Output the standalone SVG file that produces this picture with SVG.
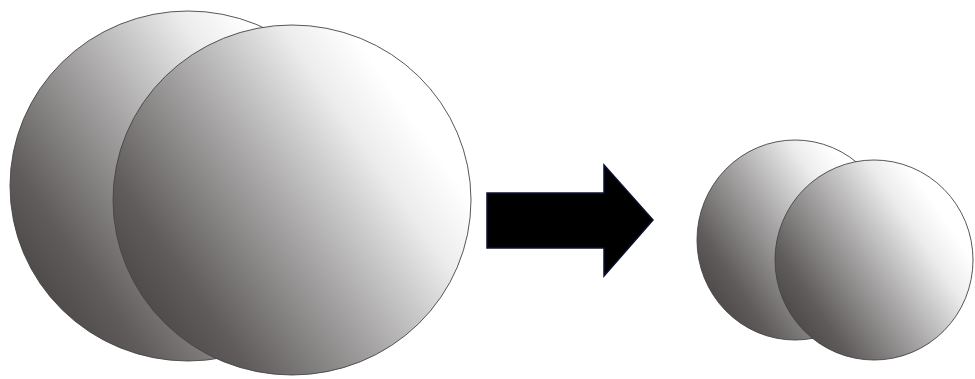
<svg xmlns="http://www.w3.org/2000/svg" width="975" height="379" viewBox="0 0 975 379">
<defs>
<linearGradient id="g" x1="-0.02" y1="0.86" x2="0.84" y2="0.27">
<stop offset="0" stop-color="#3e3a3a"/>
<stop offset="0.25" stop-color="#605c5c"/>
<stop offset="0.55" stop-color="#a4a2a2"/>
<stop offset="0.85" stop-color="#ececec"/>
<stop offset="1" stop-color="#ffffff"/>
</linearGradient>
<style>
.s{fill:url(#g);stroke:#444;stroke-width:0.9}
.a{fill:#000;stroke:#0b1030;stroke-width:1.5}
</style>
</defs>
<rect width="975" height="379" fill="#fff"/>
<g id="big-back"><ellipse class="s" cx="188" cy="186" rx="178" ry="175"/></g>
<g id="big-front"><ellipse class="s" cx="292" cy="200" rx="179" ry="175"/></g>
<g id="connectors">
<polygon class="a" points="487,193 604,193 604,165 653,220 604,276 604,248 487,248"/>
</g>
<g id="small-back"><ellipse class="s" cx="795" cy="240" rx="98" ry="100"/></g>
<g id="small-front"><ellipse class="s" cx="874" cy="260" rx="99" ry="100"/></g>
</svg>
